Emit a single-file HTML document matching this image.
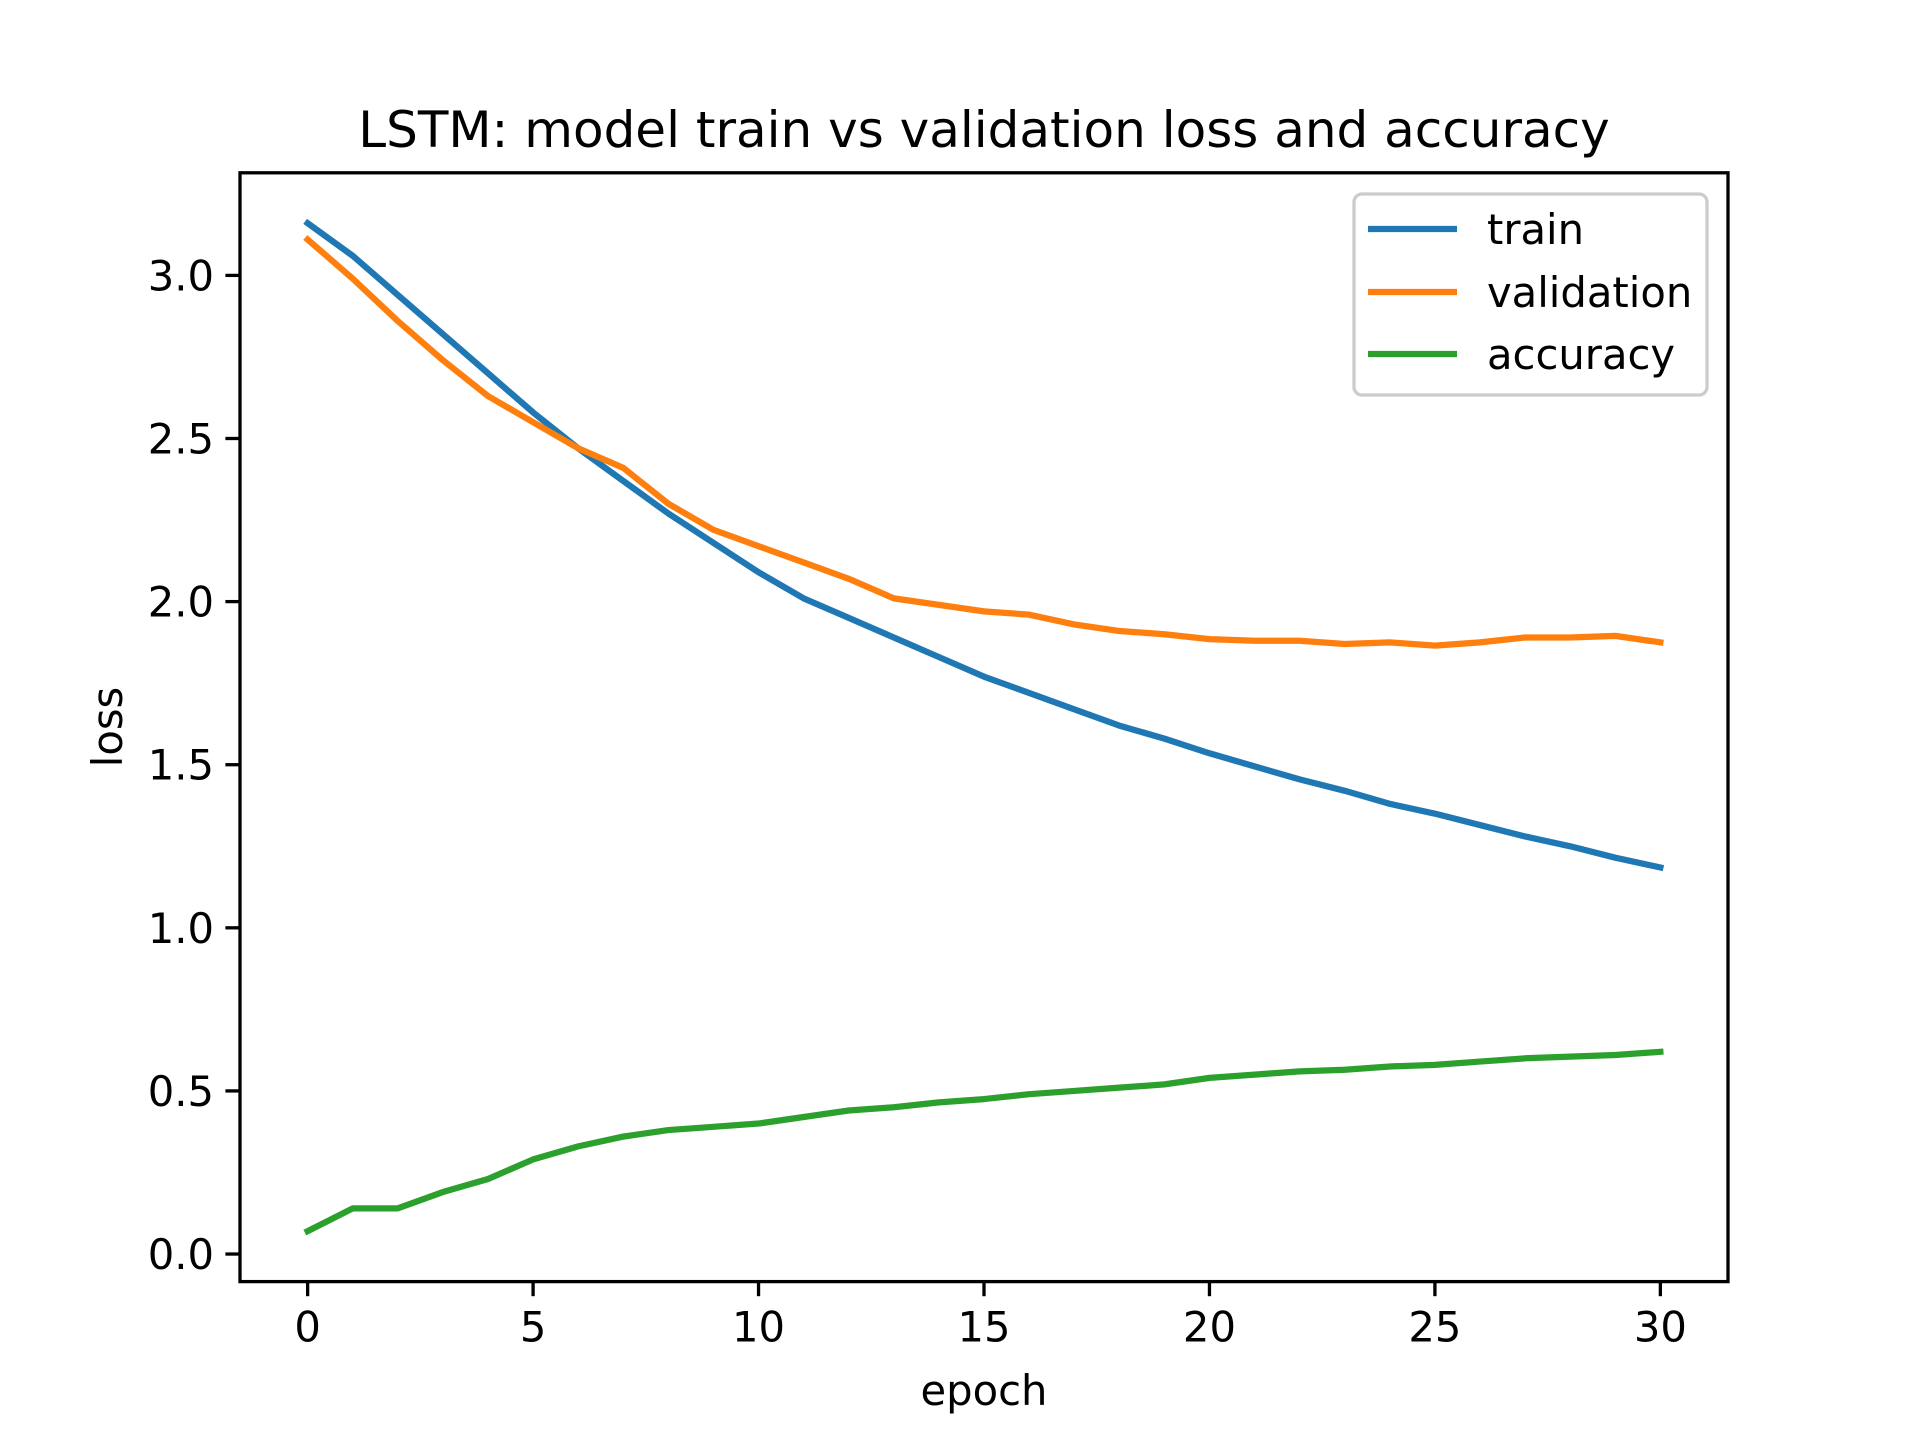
<!DOCTYPE html>
<html><head><meta charset="utf-8"><style>
html,body{margin:0;padding:0;background:#fff;}
svg{display:block;font-family:"DejaVu Sans","Liberation Sans",sans-serif;}
</style></head><body>
<svg id="chart" width="1920" height="1440" viewBox="0 0 1920 1440">
<rect width="1920" height="1440" fill="#fff"/>
<text x="984" y="147" font-size="50" text-anchor="middle">LSTM: model train vs validation loss and accuracy</text>
<g id="plot"></g>
<rect x="240" y="172.8" width="1488" height="1108.8" fill="none" stroke="#000" stroke-width="3.3"/>
<text x="984" y="1405" font-size="41.7" text-anchor="middle">epoch</text>
<text x="0" y="0" font-size="41.7" text-anchor="middle" transform="translate(122,727) rotate(-90)">loss</text>
<g>
<rect x="1354" y="194" width="353" height="201" rx="8" fill="#fff" fill-opacity="0.8" stroke="#ccc" stroke-width="3.3"/>
<line x1="1368" y1="229" x2="1457" y2="229" stroke="#1f77b4" stroke-width="6.25"/>
<text x="1487" y="244" font-size="41.7">train</text>
<line x1="1368" y1="292" x2="1457" y2="292" stroke="#ff7f0e" stroke-width="6.25"/>
<text x="1487" y="307" font-size="41.7">validation</text>
<line x1="1368" y1="354" x2="1457" y2="354" stroke="#2ca02c" stroke-width="6.25"/>
<text x="1487" y="369" font-size="41.7">accuracy</text>
</g>
</svg>
<script>
const epochs = [0,1,2,3,4,5,6,7,8,9,10,11,12,13,14,15,16,17,18,19,20,21,22,23,24,25,26,27,28,29,30];
const trainLoss = [3.16,3.06,2.94,2.82,2.70,2.58,2.47,2.37,2.27,2.18,2.09,2.01,1.95,1.89,1.83,1.77,1.72,1.67,1.62,1.58,1.535,1.495,1.455,1.42,1.38,1.35,1.315,1.28,1.25,1.215,1.185];
const valLoss = [3.11,2.99,2.86,2.74,2.63,2.55,2.47,2.41,2.30,2.22,2.17,2.12,2.07,2.01,1.99,1.97,1.96,1.93,1.91,1.90,1.885,1.88,1.88,1.87,1.875,1.865,1.875,1.89,1.89,1.895,1.875];
const accuracy = [0.07,0.14,0.14,0.19,0.23,0.29,0.33,0.36,0.38,0.39,0.40,0.42,0.44,0.45,0.465,0.475,0.49,0.50,0.51,0.52,0.54,0.55,0.56,0.565,0.575,0.58,0.59,0.60,0.605,0.61,0.62];
const xTicks = [0,5,10,15,20,25,30];
const yTicks = [0,0.5,1,1.5,2,2.5,3];
const yTickLabels = ["0.0","0.5","1.0","1.5","2.0","2.5","3.0"];

const NS = "http://www.w3.org/2000/svg";
const L = 240, R = 1728, T = 172.8, B = 1281.6;
const xmin = -1.5, xmax = 31.5;
const all = trainLoss.concat(valLoss, accuracy);
const dmin = Math.min(...all), dmax = Math.max(...all);
const pad = (dmax - dmin) * 0.05;
const ymin = dmin - pad, ymax = dmax + pad;
const sx = v => L + (v - xmin) / (xmax - xmin) * (R - L);
const sy = v => B - (v - ymin) / (ymax - ymin) * (B - T);
const plot = document.getElementById('plot');

function mk(tag, attrs) {
  const e = document.createElementNS(NS, tag);
  for (const k in attrs) e.setAttribute(k, attrs[k]);
  plot.appendChild(e);
  return e;
}

xTicks.forEach(t => {
  const x = sx(t);
  const tk = mk('line', {x1: x, y1: B, x2: x, y2: B + 14.6, stroke: '#000', 'stroke-width': 3.3});
  
  
  const lb = mk('text', {x: x, y: B + 60, 'font-size': 41.7, 'text-anchor': 'middle'});
  lb.textContent = String(t);
  
  
});
yTicks.forEach((t, i) => {
  const y = sy(t);
  const tk = mk('line', {x1: L - 14.6, y1: y, x2: L, y2: y, stroke: '#000', 'stroke-width': 3.3});
  
  
  const lb = mk('text', {x: L - 26, y: y + 15, 'font-size': 41.7, 'text-anchor': 'end'});
  lb.textContent = yTickLabels[i];
  
  
});

function series(vals, color, name) {
  const pts = vals.map((v, i) => sx(epochs[i]).toFixed(2) + ',' + sy(v).toFixed(2)).join(' ');
  const p = mk('polyline', {points: pts, fill: 'none', stroke: color, 'stroke-width': 6.25, 'stroke-linecap': 'square', 'stroke-linejoin': 'round'});
  
  
}
series(trainLoss, '#1f77b4', 'train-loss-line');
series(valLoss, '#ff7f0e', 'validation-loss-line');
series(accuracy, '#2ca02c', 'accuracy-line');
</script>
</body></html>
